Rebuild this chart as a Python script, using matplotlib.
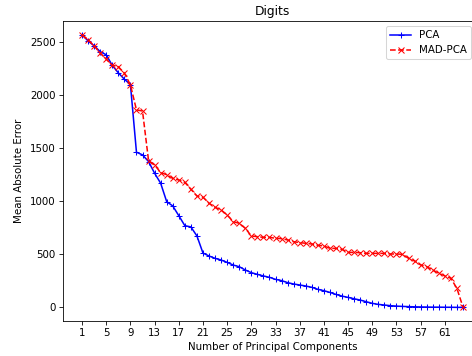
import numpy as np
import matplotlib
matplotlib.use("Agg")
import matplotlib.pyplot as plt

# number of retained components (digits has 64 features)
n_components = np.arange(1, 65)

# mean absolute reconstruction error, standard PCA
pca_err = [
    2570, 2510, 2465, 2410, 2380, 2280, 2210, 2150, 2100, 1462,
    1437, 1374, 1264, 1170, 996, 956, 864, 770, 758, 673,
    512, 484, 462, 446, 424, 399, 383, 352, 327, 311,
    296, 283, 264, 252, 233, 220, 211, 201, 189, 170,
    157, 141, 122, 106, 94, 81, 69, 53, 38, 28,
    22, 16, 12, 9, 7, 5, 4, 3, 2, 2,
    1, 1, 0, 0,
]

# mean absolute reconstruction error, MAD-PCA
mad_pca_err = [
    2570, 2522, 2465, 2396, 2340, 2280, 2268, 2207, 2097, 1861,
    1850, 1383, 1342, 1270, 1250, 1215, 1200, 1178, 1113, 1050,
    1038, 981, 943, 918, 871, 808, 792, 745, 673, 666,
    660, 660, 651, 648, 635, 619, 610, 604, 597, 585,
    579, 556, 556, 547, 518, 518, 515, 509, 509, 509,
    509, 503, 503, 500, 462, 437, 400, 384, 352, 321,
    296, 274, 179, 3,
]

dpi = 73.75
fig = plt.figure(figsize=(472 / dpi, 356 / dpi), dpi=dpi)
ax = fig.add_axes([63 / 472, 35 / 356, 419 / 472, 300 / 356])

ax.plot(n_components, pca_err, color="b", marker="+", label="PCA")
ax.plot(n_components, mad_pca_err, color="r", marker="x", linestyle="--",
        label="MAD-PCA")

ax.set_xticks(np.arange(1, 65, 4))
ax.set_title("Digits")
ax.set_xlabel("Number of Principal Components")
ax.set_ylabel("Mean Absolute Error", labelpad=6)
ax.legend(loc="upper right", bbox_to_anchor=(0.986, 1.0))

fig.savefig("out.png", dpi=dpi)
